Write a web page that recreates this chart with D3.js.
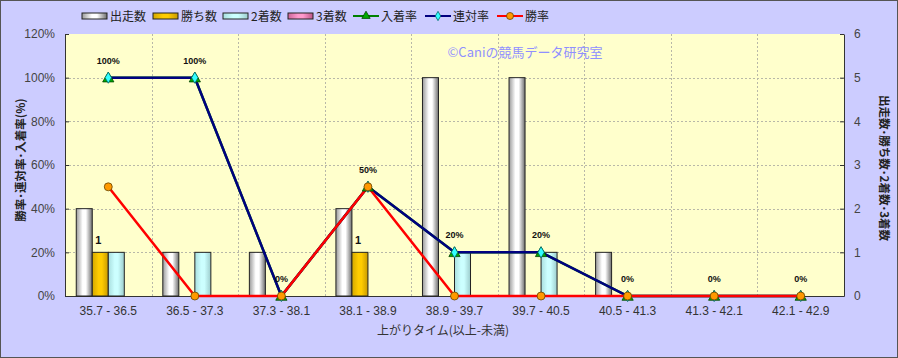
<!DOCTYPE html>
<html><head><meta charset="utf-8">
<script src="https://cdn.jsdelivr.net/npm/d3@7"></script>
<style>
html,body{margin:0;padding:0;background:#fff;}
svg{display:block;font-family:"Noto Sans CJK JP","Noto Sans",sans-serif;}
</style></head>
<body><svg id="c" width="898" height="358"></svg>
<script>
const categories = ["35.7 - 36.5","36.5 - 37.3","37.3 - 38.1","38.1 - 38.9","38.9 - 39.7","39.7 - 40.5","40.5 - 41.3","41.3 - 42.1","42.1 - 42.9"];
const runs   = [2,1,1,2,5,5,1,0,0];   // 出走数
const wins   = [1,0,0,1,0,0,0,0,0];   // 勝ち数
const second = [1,1,0,0,1,1,0,0,0];   // 2着数
const third  = [0,0,0,0,0,0,0,0,0];   // 3着数
const placeRate = [100,100,0,50,20,20,0,0,0]; // 入着率
const rentaiRate = [100,100,0,50,20,20,0,0,0]; // 連対率
const winRate = [50,0,0,50,0,0,0,0,0]; // 勝率
const leftTicks = [0,20,40,60,80,100,120];
const rightTicks = [0,1,2,3,4,5,6];

const svg = d3.select("#c");
const W=898,H=358;
const P={l:65,r:844,t:34,b:296};

svg.append("rect").attr("x",0.5).attr("y",0.5).attr("width",W-1).attr("height",H-1)
  .attr("fill","#ccccff").attr("stroke","#555");

const defs = svg.append("defs");
function grad(id, edgeL, mid, edgeR){
  const g = defs.append("linearGradient").attr("id",id).attr("x1","0").attr("x2","1").attr("y1","0").attr("y2","0");
  g.append("stop").attr("offset","0%").attr("stop-color",edgeL);
  g.append("stop").attr("offset","40%").attr("stop-color",mid);
  g.append("stop").attr("offset","60%").attr("stop-color",mid);
  g.append("stop").attr("offset","100%").attr("stop-color",edgeR);
}
grad("gRun","#9a9a9a","#ffffff","#6e6e6e");
grad("gWin","#d4a800","#ffcc00","#c89a00");
grad("gSec","#a8dede","#ccffff","#9ccccc");
grad("gThi","#cc6699","#ff99cc","#bb5588");

const x = d3.scaleBand().domain(categories).range([P.l,P.r]).padding(0);
const bw = x.bandwidth();
const seriesNames = ["出走数","勝ち数","2着数","3着数"];
const xi = d3.scaleBand().domain(seriesNames).range([bw*0.13,bw*0.87]).padding(0);
const yL = d3.scaleLinear().domain([0,120]).range([P.b,P.t]);
const yR = d3.scaleLinear().domain([0,6]).range([P.b,P.t]);

svg.append("rect").attr("x",P.l).attr("y",P.t).attr("width",P.r-P.l).attr("height",P.b-P.t).attr("fill","#ffffcc");

// grid
const grid = svg.append("g").attr("stroke","#b8b8a8").attr("stroke-dasharray","2,2").attr("stroke-width",1);
leftTicks.slice(1,-1).forEach(t=>grid.append("line").attr("x1",P.l).attr("x2",P.r).attr("y1",Math.round(yL(t))+0.5).attr("y2",Math.round(yL(t))+0.5));
categories.slice(1).forEach(c=>grid.append("line").attr("x1",Math.round(x(c))+0.5).attr("x2",Math.round(x(c))+0.5).attr("y1",P.t).attr("y2",P.b));

// axes
const axL = svg.append("g").attr("transform",`translate(${P.l},0)`)
  .call(d3.axisLeft(yL).tickValues(leftTicks).tickFormat(d=>d+"%").tickSizeInner(-4).tickSizeOuter(0).tickPadding(10));
const axR = svg.append("g").attr("transform",`translate(${P.r},0)`)
  .call(d3.axisRight(yR).tickValues(rightTicks).tickFormat(d3.format("d")).tickSizeInner(-4).tickSizeOuter(0).tickPadding(10));
[axL,axR].forEach(a=>{a.select(".domain").attr("stroke","#333");a.selectAll(".tick line").attr("stroke","#333");
  a.selectAll("text").attr("fill","#444").style("font-size","12px").style("font-family","'Liberation Sans','DejaVu Sans',sans-serif");});
const axB = svg.append("g").attr("transform",`translate(0,${P.b})`)
  .call(d3.axisBottom(x).tickSize(0).tickPadding(10));
axB.select(".domain").attr("stroke","#333");
axB.selectAll("text").attr("fill","#333").style("font-size","12px").style("font-family","'Liberation Sans','DejaVu Sans',sans-serif");

// bars
const barSets = [
  {name:"出走数",vals:runs,fill:"url(#gRun)"},
  {name:"勝ち数",vals:wins,fill:"url(#gWin)"},
  {name:"2着数",vals:second,fill:"url(#gSec)"},
  {name:"3着数",vals:third,fill:"url(#gThi)"}
];
barSets.forEach(s=>{
  svg.append("g").selectAll("rect").data(categories.map((c,i)=>({c,v:s.vals[i]})).filter(d=>d.v>0))
   .join("rect").attr("x",d=>x(d.c)+xi(s.name)).attr("width",xi.bandwidth())
   .attr("y",d=>yR(d.v)).attr("height",d=>yR(0)-yR(d.v))
   .attr("fill",s.fill).attr("stroke","#222").attr("stroke-width",1);
});
// win count labels
svg.append("g").selectAll("text").data(categories.map((c,i)=>({c,v:wins[i]})).filter(d=>d.v>0))
 .join("text").attr("x",d=>x(d.c)+xi("勝ち数")+xi.bandwidth()/2-2).attr("y",d=>yR(d.v)-8)
 .attr("text-anchor","middle").attr("font-size","11px").attr("fill","#111").attr("font-weight","bold")
 .style("font-family","'Liberation Sans',sans-serif").text(d=>d.v);

const cx = c=>x(c)+bw/2;
function lineSeries(vals,color){
  const pts = categories.map((c,i)=>[cx(c),yL(vals[i])]);
  svg.append("path").attr("d",d3.line()(pts)).attr("fill","none").attr("stroke",color).attr("stroke-width",2.5);
  return pts;
}
const pPlace = lineSeries(placeRate,"#008000");
const pRen = lineSeries(rentaiRate,"#000080");
const pWin = lineSeries(winRate,"#ff0000");
// markers
svg.append("g").selectAll("path").data(pPlace).join("path")
 .attr("d",d3.symbol(d3.symbolTriangle,55)()).attr("transform",d=>`translate(${d[0]},${d[1]+1})`)
 .attr("fill","#00aa00").attr("stroke","#004400").attr("stroke-width",0.8);
svg.append("g").selectAll("path").data(pRen).join("path")
 .attr("d",d3.symbol(d3.symbolDiamond,36)()).attr("transform",d=>`translate(${d[0]},${d[1]})`)
 .attr("fill","#33ffff").attr("stroke","#006666").attr("stroke-width",0.8);
svg.append("g").selectAll("circle").data(pWin).join("circle")
 .attr("cx",d=>d[0]).attr("cy",d=>d[1]).attr("r",4)
 .attr("fill","#ff9900").attr("stroke","#664400").attr("stroke-width",0.8);

// rentai labels
svg.append("g").selectAll("text").data(categories.map((c,i)=>({c,v:rentaiRate[i]})))
 .join("text").attr("x",d=>cx(d.c)).attr("y",d=>yL(d.v)-14)
 .attr("text-anchor","middle").attr("font-size","9px").attr("font-weight","bold").attr("fill","#111")
 .style("font-family","'Liberation Sans',sans-serif").text(d=>d.v+"%");

// watermark
svg.append("text").attr("x",525).attr("y",57).attr("text-anchor","middle").attr("font-size","13px")
 .attr("fill","#8f8fff").text("©Caniの競馬データ研究室");

// axis titles
svg.append("text").attr("transform",`translate(25,160) rotate(-90)`).attr("text-anchor","middle")
 .attr("font-size","11.5px").attr("font-weight","bold").attr("fill","#222").text("勝率･連対率･入着率(%)");
svg.append("text").attr("transform",`translate(880,168) rotate(90)`).attr("text-anchor","middle")
 .attr("font-size","11.5px").attr("font-weight","bold").attr("fill","#222").text("出走数･勝ち数･2着数･3着数");
svg.append("text").attr("x",443).attr("y",335).attr("text-anchor","middle")
 .attr("font-size","12px").attr("fill","#333").text("上がりタイム(以上-未満)");

// legend
const lg = svg.append("g");
const legItems = [
  {t:"出走数",type:"bar",fill:"url(#gRun)",x:82},
  {t:"勝ち数",type:"bar",fill:"url(#gWin)",x:153},
  {t:"2着数",type:"bar",fill:"url(#gSec)",x:223},
  {t:"3着数",type:"bar",fill:"url(#gThi)",x:288},
  {t:"入着率",type:"line",col:"#008000",mk:"tri",x:353},
  {t:"連対率",type:"line",col:"#000080",mk:"dia",x:425},
  {t:"勝率",type:"line",col:"#ff0000",mk:"cir",x:497}
];
legItems.forEach(it=>{
  const g = lg.append("g");
  if(it.type==="bar"){
    g.append("rect").attr("x",it.x).attr("y",13).attr("width",25).attr("height",6).attr("fill",it.fill).attr("stroke","#222");
  } else {
    g.append("line").attr("x1",it.x).attr("x2",it.x+26).attr("y1",16).attr("y2",16).attr("stroke",it.col).attr("stroke-width",2);
    const mx=it.x+13;
    if(it.mk==="tri") g.append("path").attr("d",d3.symbol(d3.symbolTriangle,30)()).attr("transform",`translate(${mx},16)`).attr("fill","#00aa00").attr("stroke","#004400").attr("stroke-width",0.8);
    if(it.mk==="dia") g.append("path").attr("d",d3.symbol(d3.symbolDiamond,25)()).attr("transform",`translate(${mx},16)`).attr("fill","#33ffff").attr("stroke","#006666").attr("stroke-width",0.8);
    if(it.mk==="cir") g.append("circle").attr("cx",mx).attr("cy",16).attr("r",3.5).attr("fill","#ff9900").attr("stroke","#664400").attr("stroke-width",0.8);
  }
  g.append("text").attr("x",it.x+28).attr("y",20.5).attr("font-size","12px").attr("fill","#222").text(it.t);
});
</script></body></html>
